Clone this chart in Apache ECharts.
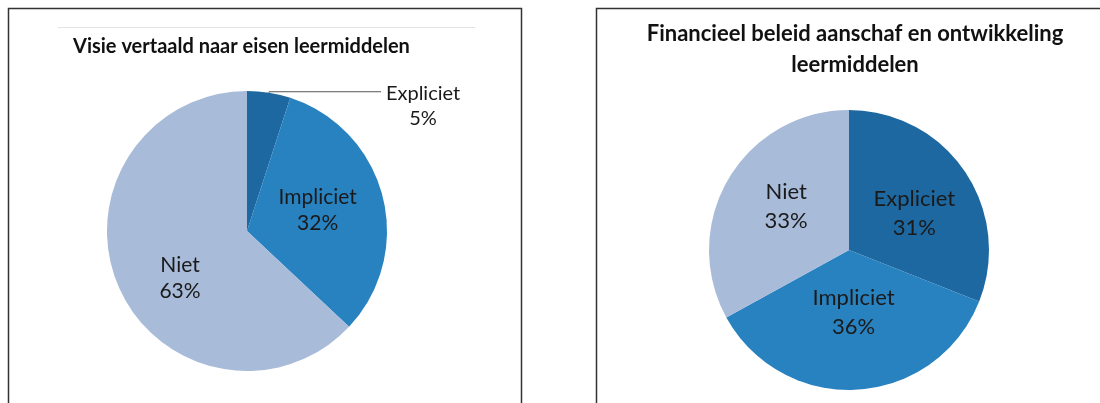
<!DOCTYPE html>
<html><head><meta charset="utf-8">
<script src="https://cdn.jsdelivr.net/npm/echarts@6/dist/echarts.min.js"></script>
<style>html,body{margin:0;padding:0;background:#fff}#c{width:1100px;height:403px}</style>
</head><body><div id="c"></div>
<script>
const categories = ['Expliciet', 'Impliciet', 'Niet'];
const leftTitle = 'Visie vertaald naar eisen leermiddelen';
const leftValues = [5, 32, 63];
const rightTitle = 'Financieel beleid aanschaf en ontwikkeling\nleermiddelen';
const rightValues = [31, 36, 33];
const colors = ['#1d68a0', '#2882c0', '#a8bbd9'];
const FONT = 'Lato';
const TXT = '#1a1a1a';

const chart = echarts.init(document.getElementById('c'), null, {renderer: 'canvas'});

function makeData(vals) {
  return categories.map((c, i) => ({name: c, value: vals[i], itemStyle: {color: colors[i]}}));
}
const leftData = makeData(leftValues);
leftData[0].label = {position: 'outside', formatter: '{c|{b}}\n{c|{c}%}', rich: {c: {width: 74, align: 'center', fontSize: 20, fontFamily: FONT, color: TXT, lineHeight: 25}}};
leftData[0].labelLine = {show: true, length: 1, length2: 112, lineStyle: {color: '#555', width: 1}};

chart.setOption({
  animation: false,
  graphic: [
    {type: 'rect', shape: {x: 8.5, y: 8.5, width: 513, height: 420}, style: {fill: 'none', stroke: '#333', lineWidth: 1.5}},
    {type: 'line', shape: {x1: 58, y1: 27.5, x2: 475, y2: 27.5}, style: {stroke: '#e3e3e3', lineWidth: 1}},
    {type: 'rect', shape: {x: 596.5, y: 8.5, width: 560, height: 420}, style: {fill: 'none', stroke: '#333', lineWidth: 1.5}}
  ],
  title: [
    {text: leftTitle, left: 68, top: 32, textStyle: {fontFamily: FONT, fontWeight: 'bold', fontSize: 20, color: '#111'}},
    {text: rightTitle, left: 850, textAlign: 'center', top: 13, textStyle: {fontFamily: FONT, fontWeight: 'bold', fontSize: 22, color: '#111', lineHeight: 31}}
  ],
  series: [
    {
      type: 'pie', center: [247, 231], radius: 140, startAngle: 90, clockwise: true,
      data: leftData,
      label: {position: 'inside', formatter: '{b}\n{c}%', fontFamily: FONT, fontSize: 21, color: TXT, lineHeight: 26},
      labelLine: {show: false},
      labelLayout: function (p) {
        if (p.dataIndex === 2) return {dy: 18};
        if (p.dataIndex === 0) return {dy: 14};
        return {dy: -3};
      },
      emphasis: {disabled: true}
    },
    {
      type: 'pie', center: [849, 250], radius: 140, startAngle: 90, clockwise: true,
      data: makeData(rightValues),
      label: {position: 'inside', formatter: '{b}\n{c}%', fontFamily: FONT, fontSize: 22, color: TXT, lineHeight: 29},
      labelLine: {show: false},
      labelLayout: function (p) {
        if (p.dataIndex === 1) return {dy: -10};
        if (p.dataIndex === 2) return {dy: -6};
        return {dx: 5, dy: 4};
      },
      emphasis: {disabled: true}
    }
  ]
});
</script></body></html>
